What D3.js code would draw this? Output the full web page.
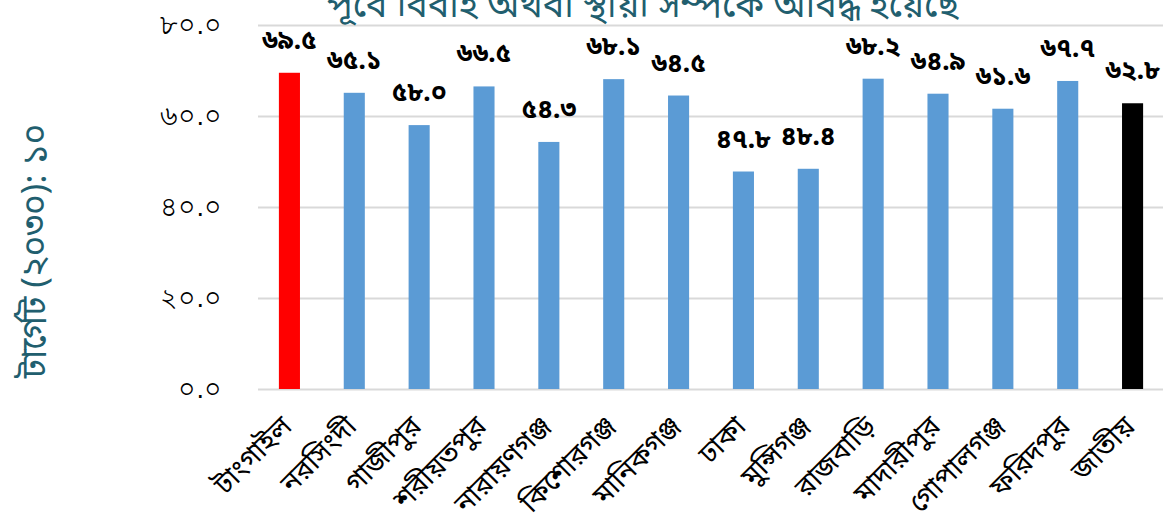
<!DOCTYPE html>
<html><head><meta charset="utf-8">
<script src="https://cdn.jsdelivr.net/npm/d3@7"></script>
<style>
body{margin:0;background:#fff;}
svg{display:block;font-family:"Noto Sans Bengali","Vrinda","Lohit Bengali","Noto Sans",sans-serif;}
</style></head>
<body><svg id="c" width="1163" height="529"></svg>
<script>
const categories = ["টাংগাইল","নরসিংদী","গাজীপুর","শরীয়তপুর","নারায়ণগঞ্জ","কিশোরগঞ্জ","মানিকগঞ্জ","ঢাকা","মুন্সিগঞ্জ","রাজবাড়ি","মাদারীপুর","গোপালগঞ্জ","ফরিদপুর","জাতীয়"];
const values = [69.5,65.1,58.0,66.5,54.3,68.1,64.5,47.8,48.4,68.2,64.9,61.6,67.7,62.8];
const valueLabels = ["৬৯.৫","৬৫.১","৫৮.০","৬৬.৫","৫৪.৩","৬৮.১","৬৪.৫","৪৭.৮","৪৮.৪","৬৮.২","৬৪.৯","৬১.৬","৬৭.৭","৬২.৮"];
const barColors = ["#FF0000","#5B9BD5","#5B9BD5","#5B9BD5","#5B9BD5","#5B9BD5","#5B9BD5","#5B9BD5","#5B9BD5","#5B9BD5","#5B9BD5","#5B9BD5","#5B9BD5","#000000"];
const yTicks = [0,20,40,60,80];
const yTickLabels = ["০.০","২০.০","৪০.০","৬০.০","৮০.০"];
const title = "পূর্বে বিবাহ অথবা স্থায়ী সম্পর্কে আবদ্ধ হয়েছে";
const yTitle = "টার্গেট (২০৩০): ১০";

const svg = d3.select("#c");
const x = d3.scaleBand().domain(categories).range([257,1165]).paddingInner(0.675).paddingOuter(0.3375);
const y = d3.scaleLinear().domain([0,80]).range([389,25]);

// gridlines
const yAxis = d3.axisLeft(y).tickValues(yTicks).tickSize(-(1163-258)).tickFormat((d,i)=>yTickLabels[i]);
const ga = svg.append("g").attr("transform","translate(258,0)").call(yAxis);
ga.select(".domain").remove();
ga.selectAll(".tick line").attr("stroke","#d9d9d9").attr("stroke-width",2);
ga.selectAll(".tick text").attr("x",-36).attr("font-size",27).attr("fill","#000").attr("dy","0.3em");

// bars
svg.append("g").selectAll("rect").data(values).join("rect")
  .attr("x",(d,i)=>x(categories[i]))
  .attr("width",x.bandwidth())
  .attr("y",d=>y(d))
  .attr("height",d=>y(0)-y(d))
  .attr("fill",(d,i)=>barColors[i]);

// value labels
svg.append("g").selectAll("text").data(values).join("text")
  .attr("x",(d,i)=>x(categories[i])+x.bandwidth()/2)
  .attr("y",d=>y(d)-24)
  .attr("text-anchor","middle")
  .attr("font-size",26).attr("font-weight","bold").attr("fill","#000")
  .text((d,i)=>valueLabels[i]);

// x labels
svg.append("g").selectAll("text").data(categories).join("text")
  .attr("transform",(d)=>`translate(${x(d)+x.bandwidth()/2+4},428) rotate(-45)`)
  .attr("text-anchor","end")
  .attr("font-size",28).attr("fill","#000")
  .text(d=>d);

// title
svg.append("text").attr("x",643).attr("y",17).attr("text-anchor","middle")
  .attr("font-size",36).attr("fill","#215E6E").text(title);

// y title
svg.append("text").attr("transform","translate(46,251) rotate(-90)")
  .attr("text-anchor","middle").attr("font-size",35).attr("fill","#215E6E").text(yTitle);
</script></body></html>
